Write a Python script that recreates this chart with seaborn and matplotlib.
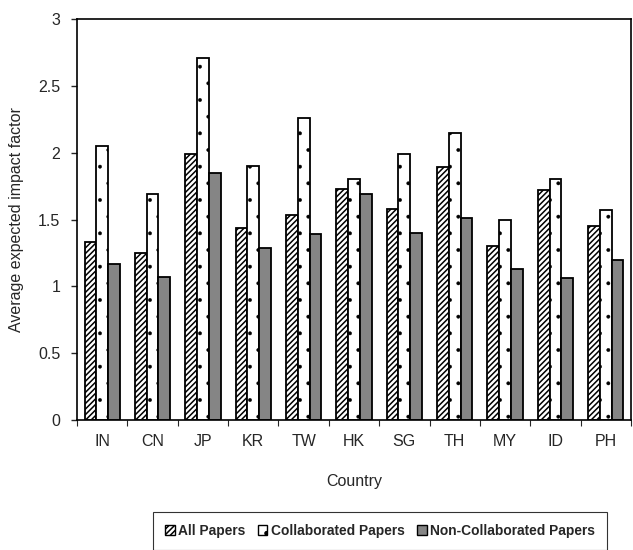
import matplotlib
matplotlib.use("Agg")
import matplotlib.pyplot as plt
import seaborn as sns
import pandas as pd
import numpy as np
from matplotlib.patches import Patch

countries = ["IN", "CN", "JP", "KR", "TW", "HK", "SG", "TH", "MY", "ID", "PH"]
all_papers = [1.33, 1.25, 1.99, 1.44, 1.53, 1.73, 1.58, 1.89, 1.30, 1.72, 1.45]
collab_papers = [2.05, 1.69, 2.71, 1.90, 2.26, 1.80, 1.99, 2.15, 1.50, 1.80, 1.57]
noncollab_papers = [1.17, 1.07, 1.85, 1.29, 1.39, 1.69, 1.40, 1.51, 1.13, 1.06, 1.20]
series = ["All Papers", "Collaborated Papers", "Non-Collaborated Papers"]
yticks = [0, 0.5, 1, 1.5, 2, 2.5, 3]
ytick_labels = ["0", "0.5", "1", "1.5", "2", "2.5", "3"]

df = pd.DataFrame({
    "Country": countries * 3,
    "value": all_papers + collab_papers + noncollab_papers,
    "series": [series[0]] * 11 + [series[1]] * 11 + [series[2]] * 11,
})

sns.set_style("white")
plt.rcParams["font.family"] = ["Liberation Sans", "DejaVu Sans"]
plt.rcParams["hatch.linewidth"] = 1.1

fig = plt.figure(figsize=(6.33, 5.5), dpi=100)
ax = fig.add_axes([77 / 633, 1 - 420 / 550, 554 / 633, 401 / 550])

faces = ["white", "white", "#858585"]
hatches = ["//////", ".", ""]
hatch_lw = [1.1, 0.3, 1.0]
sns.barplot(data=df, x="Country", y="value", hue="series", hue_order=series,
            order=countries, palette=faces, width=0.7, gap=0,
            edgecolor="black", linewidth=1.3, ax=ax, legend=False, saturation=1)

for cont, h, fc, hl in zip(ax.containers, hatches, faces, hatch_lw):
    for p in cont:
        p.set_hatch(h)
        p.set_facecolor(fc)
        p.set_edgecolor("black")
        if hasattr(p, "set_hatch_linewidth"):
            p.set_hatch_linewidth(hl)

ax.set_ylim(0, 3)
ax.set_xlim(-0.5, len(countries) - 0.5)
ax.set_yticks(yticks)
ax.set_yticklabels(ytick_labels, fontsize=11.5)
ax.tick_params(axis="y", direction="out", length=4, width=1, left=True, pad=8)
ax.set_xticks(range(len(countries)))
ax.set_xticklabels(countries, fontsize=11.5)
ax.tick_params(axis="x", which="major", length=0, pad=10)
ax.set_xticks(np.arange(-0.5, len(countries), 1.0), minor=True)
ax.tick_params(axis="x", which="minor", direction="out", length=4, width=0.8, bottom=True)
ax.set_xlabel("Country", fontsize=11.5, labelpad=18)
ax.set_ylabel("Average expected impact factor", fontsize=11.5, labelpad=10)
for s in ax.spines.values():
    s.set_visible(True)
    s.set_color("black")
    s.set_linewidth(1.2)

handles = [Patch(facecolor=fc, edgecolor="black", hatch=h, label=s)
           for fc, h, s in zip(faces, hatches, series)]
leg = fig.legend(handles=handles, loc="center", ncol=3,
                 bbox_to_anchor=(380 / 633, 1 - 531 / 550),
                 frameon=True, fancybox=False, edgecolor="black",
                 handlelength=0.7, handleheight=0.7, handletextpad=0.25,
                 columnspacing=0.9, borderpad=0.9,
                 prop={"weight": "bold", "size": 9.9})
leg.get_frame().set_linewidth(0.8)

fig.savefig("out.png", dpi=100)
